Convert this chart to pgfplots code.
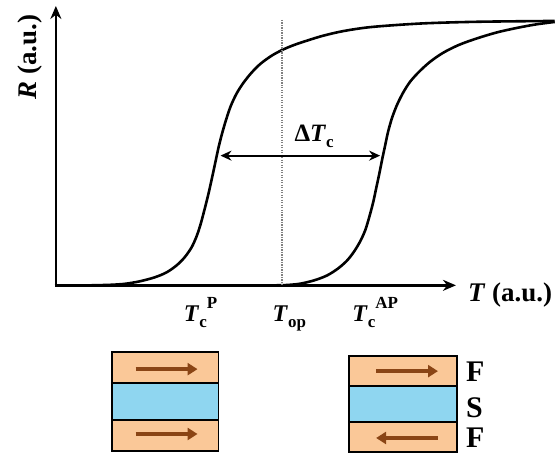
\documentclass[border=0pt]{standalone}
\usepackage{pgfplots}
\pgfplotsset{compat=1.18}
\usetikzlibrary{arrows.meta}
\usepackage{fontspec}
\setmainfont{Liberation Serif}

\definecolor{layerF}{HTML}{FAC898}
\definecolor{layerS}{HTML}{8FD6F0}
\definecolor{spin}{HTML}{8A4515}

% font sizes (1pt = one unit of the drawing)
\newcommand{\lab}{\fontsize{27}{30}\selectfont\bfseries}
\newcommand{\tlab}{\fontsize{24}{27}\selectfont\bfseries}
\newcommand{\scr}{\fontsize{17}{17}\selectfont\bfseries}
% T with a subscript and an optional superscript set one after the other
\newcommand{\Tsubsup}[2]{\textit{T}\raisebox{-0.28em}{\scr #1}\raisebox{0.55em}{\scr #2}}

\begin{document}
\begin{tikzpicture}
\begin{axis}[
  scale only axis, width=556pt, height=455pt,
  xmin=0, xmax=556, ymin=0, ymax=455, y dir=reverse,
  hide axis, clip=false,
]
% the full drawing area
\path (axis cs:0,0) rectangle (axis cs:556,455);

% parallel configuration, lower critical temperature
\addplot[black, line width=2.6pt, smooth, tension=0.5] coordinates {
  (90,286) (110,285.5) (125,284.5) (140,282) (155,278) (167,273) (177,266)
  (185,258) (192,248) (197,237) (201,225) (205,210) (209,194) (213,176)
  (216,162) (219,148) (222,136) (226,122) (231,107) (237,94) (244,83)
  (252,73) (261,64) (272,56) (283,50) (295,45) (310,40) (325,35.5)
  (345,31) (373,27) (423,23.5) (480,21.8) (556,21)
};
% antiparallel configuration, higher critical temperature
\addplot[black, line width=2.6pt, smooth, tension=0.5] coordinates {
  (270,286) (285,285.8) (300,284.5) (315,281) (328,276) (339,269) (348,261)
  (355,252) (361,242) (366,231) (370,218) (374,203) (377,189) (380,175)
  (383,160) (386,146) (389,132) (393,118) (398,105) (404,93) (411,82)
  (420,72) (431,62) (444,53) (460,45) (478,38.5) (498,32.5) (518,28)
  (537,24.5) (556,22)
};

% axes
\draw[line width=2.4pt, -{Stealth[length=13pt,width=11pt]}] (axis cs:56,287.2) -- (axis cs:56,6);
\draw[line width=2.4pt, -{Stealth[length=13pt,width=11pt]}] (axis cs:54.8,286) -- (axis cs:457,286);

% operating temperature
\draw[gray, line width=1.8pt, dash pattern=on 1.2pt off 1.3pt] (axis cs:283,20) -- (axis cs:283,286);

% shift of the critical temperature
\draw[line width=2pt, {Stealth[length=11pt,width=10pt]}-{Stealth[length=11pt,width=10pt]}]
  (axis cs:221,156) -- (axis cs:381,156);
\node[anchor=base west, inner sep=0pt, font=\fontsize{25}{28}\selectfont\bfseries]
  at (axis cs:295,142) {Δ\textit{T}\raisebox{-0.22em}{\scr c}};

% axis labels
\node[anchor=base, rotate=90, inner sep=0pt, font=\lab] at (axis cs:37,57) {\textit{R} (a.u.)};
\node[anchor=base west, inner sep=0pt, font=\lab] at (axis cs:469,302) {\textit{T} (a.u.)};

% characteristic temperatures
\node[anchor=base, inner sep=0pt, font=\tlab] at (axis cs:201,322) {\Tsubsup{c}{P}};
\node[anchor=base, inner sep=0pt, font=\tlab] at (axis cs:290,322) {\textit{T}\raisebox{-0.28em}{\scr op}};
\node[anchor=base, inner sep=0pt, font=\tlab] at (axis cs:376,322) {\Tsubsup{c}{AP}};

% F/S/F trilayer, parallel magnetisations
\fill[layerF] (axis cs:112,353) rectangle (axis cs:219,384);
\fill[layerS] (axis cs:112,384) rectangle (axis cs:219,421);
\fill[layerF] (axis cs:112,421) rectangle (axis cs:219,452);
\draw[line width=1.8pt] (axis cs:112,353) rectangle (axis cs:219,452);
\draw[line width=1.8pt] (axis cs:112,384) -- (axis cs:219,384);
\draw[line width=1.8pt] (axis cs:112,421) -- (axis cs:219,421);
\draw[spin, line width=4pt, -{Triangle[length=10pt,width=12pt]}] (axis cs:136,370) -- (axis cs:198,370);
\draw[spin, line width=4pt, -{Triangle[length=10pt,width=12pt]}] (axis cs:136,435) -- (axis cs:198,435);

% F/S/F trilayer, antiparallel magnetisations
\fill[layerF] (axis cs:350,357) rectangle (axis cs:458,387);
\fill[layerS] (axis cs:350,387) rectangle (axis cs:458,423);
\fill[layerF] (axis cs:350,423) rectangle (axis cs:458,453);
\draw[line width=1.8pt] (axis cs:350,357) rectangle (axis cs:458,453);
\draw[line width=1.8pt] (axis cs:350,387) -- (axis cs:458,387);
\draw[line width=1.8pt] (axis cs:350,423) -- (axis cs:458,423);
\draw[spin, line width=4pt, -{Triangle[length=10pt,width=12pt]}] (axis cs:377,372) -- (axis cs:439,372);
\draw[spin, line width=4pt, -{Triangle[length=10pt,width=12pt]}] (axis cs:439,439) -- (axis cs:377,439);

% layer names
\node[anchor=base west, inner sep=0pt, font=\fontsize{30}{32}\selectfont\bfseries] at (axis cs:467,382) {F};
\node[anchor=base west, inner sep=0pt, font=\fontsize{30}{32}\selectfont\bfseries] at (axis cs:467,418) {S};
\node[anchor=base west, inner sep=0pt, font=\fontsize{30}{32}\selectfont\bfseries] at (axis cs:467,449) {F};
\end{axis}
\end{tikzpicture}
\end{document}
